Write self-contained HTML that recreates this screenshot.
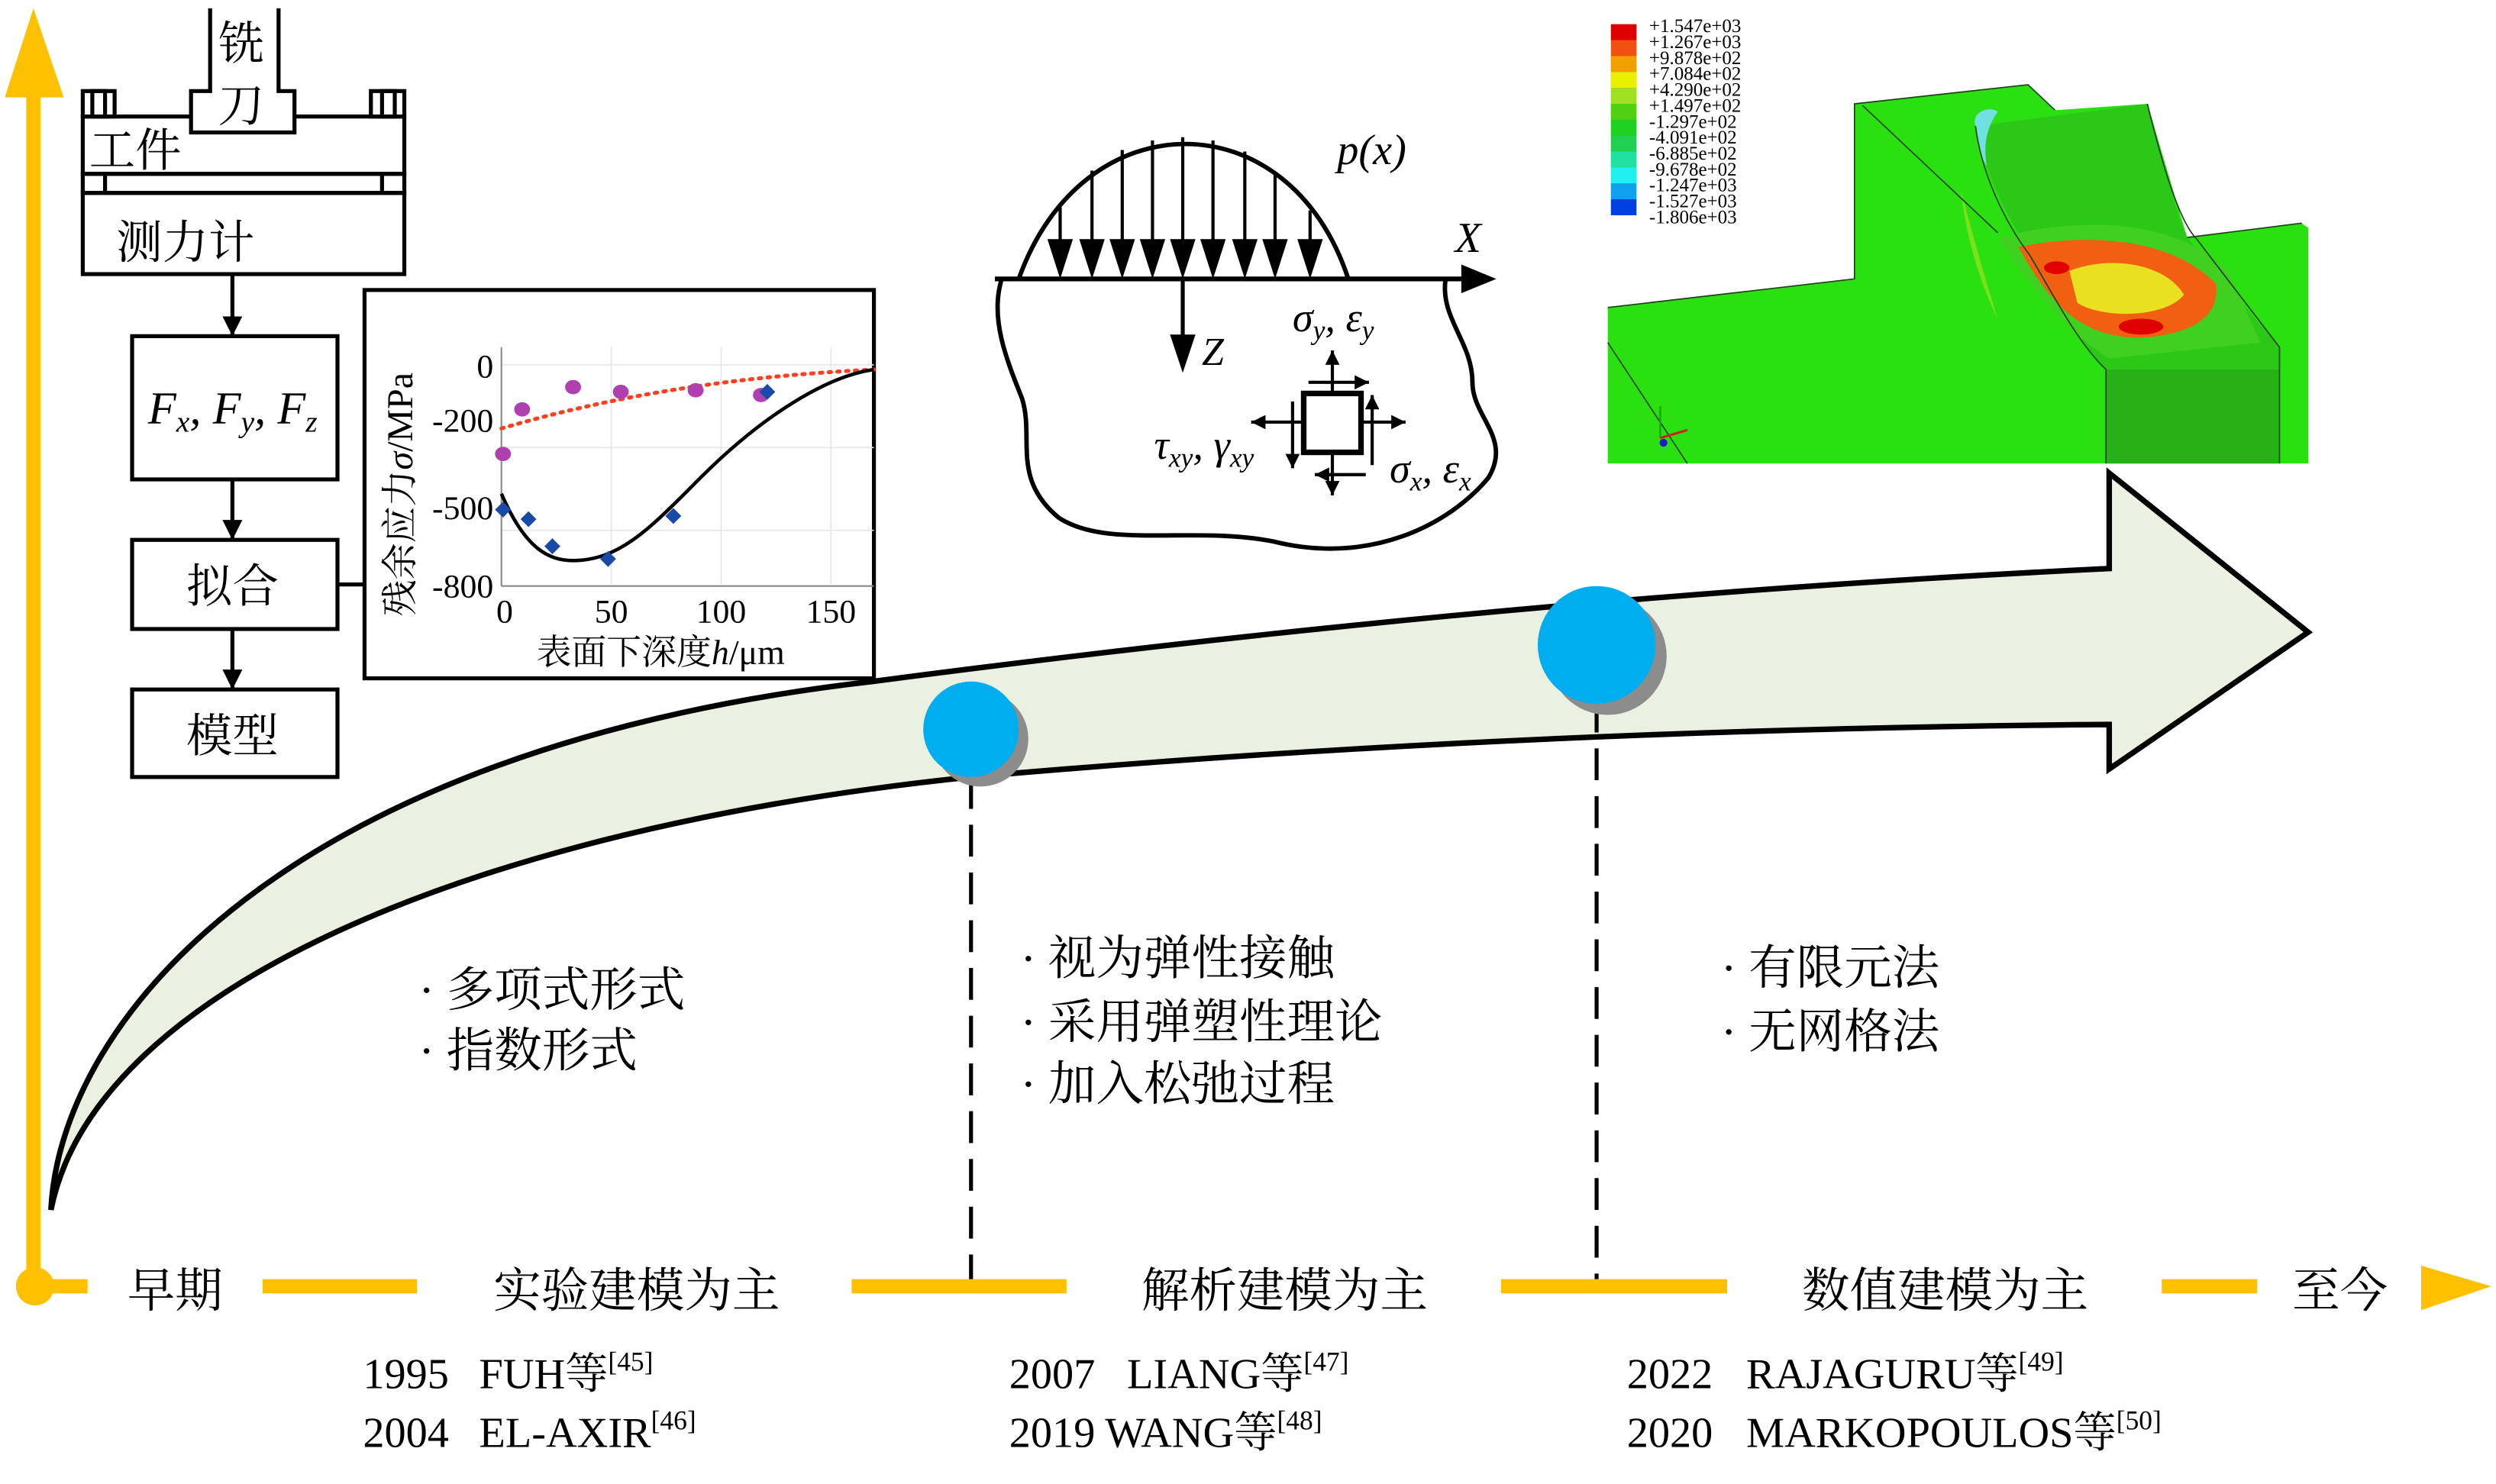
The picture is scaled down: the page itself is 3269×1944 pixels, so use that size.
<!DOCTYPE html>
<html><head><meta charset="utf-8"><style>
html,body{margin:0;padding:0;background:#fff}
svg{display:block}
text{font-family:"Liberation Serif","Noto Serif CJK SC","Noto Sans CJK SC",serif}
.cn{font-family:"Liberation Serif","Noto Serif CJK SC",serif}
.it{font-style:italic}
</style></head><body>
<svg width="3269" height="1944" viewBox="0 0 1568 932" xmlns="http://www.w3.org/2000/svg">
<defs>
<marker id="ah" viewBox="0 0 10 10" refX="10" refY="5" markerWidth="5" markerHeight="5" orient="auto"><path d="M0,0 L10,5 L0,10 Z" fill="#000"/></marker>
<marker id="ah2" viewBox="0 0 10 10" refX="10" refY="5" markerWidth="4.5" markerHeight="4.5" orient="auto"><path d="M0,0 L10,5 L0,10 Z" fill="#000"/></marker>
</defs>

<path d="M32,760 C38,640 180,470 548,428 Q950,375 1325,357 L1325,297 L1450,397 L1325,483 L1325,455 Q950,458 610,488 C300,520 60,620 32,760 Z" fill="#ebf1e0" stroke="#000" stroke-width="3.5" stroke-linejoin="miter"/>

<line x1="610" y1="488" x2="610" y2="808" stroke="#000" stroke-width="2.5" stroke-dasharray="20,10"/>
<line x1="1003" y1="440" x2="1003" y2="808" stroke="#000" stroke-width="2.5" stroke-dasharray="20,10"/>

<circle cx="616" cy="464" r="30" fill="#8c8c8c"/>
<circle cx="610" cy="458" r="30" fill="#00aeef"/>
<circle cx="1010" cy="412" r="37" fill="#8c8c8c"/>
<circle cx="1003" cy="405" r="37" fill="#00aeef"/>

<line x1="21" y1="810" x2="21" y2="55" stroke="#ffc000" stroke-width="9"/>
<polygon points="3,61 21,5 40,61" fill="#ffc000"/>
<circle cx="22" cy="808" r="12" fill="#ffc000"/>
<g stroke="#ffc000" stroke-width="9">
<line x1="22" y1="808" x2="55" y2="808"/>
<line x1="165" y1="808" x2="262" y2="808"/>
<line x1="535" y1="808" x2="670" y2="808"/>
<line x1="943" y1="808" x2="1085" y2="808"/>
<line x1="1358" y1="808" x2="1418" y2="808"/>
</g>
<polygon points="1521,795 1565,808 1521,823" fill="#ffc000"/>
<g font-size="30" class="cn">
<text x="80" y="821">早期</text>
<text x="310" y="821">实验建模为主</text>
<text x="717" y="821">解析建模为主</text>
<text x="1132" y="821">数值建模为主</text>
<text x="1440" y="821">至今</text>
</g>
<g font-size="27">
<text x="228" y="872">1995</text><text x="301" y="872">FUH等<tspan font-size="17" dy="-11">[45]</tspan></text>
<text x="228" y="909">2004</text><text x="301" y="909">EL-AXIR<tspan font-size="17" dy="-11">[46]</tspan></text>
<text x="634" y="872">2007</text><text x="708" y="872">LIANG等<tspan font-size="17" dy="-11">[47]</tspan></text>
<text x="634" y="909">2019 WANG等<tspan font-size="17" dy="-11">[48]</tspan></text>
<text x="1022" y="872">2022</text><text x="1097" y="872">RAJAGURU等<tspan font-size="17" dy="-11">[49]</tspan></text>
<text x="1022" y="909">2020</text><text x="1097" y="909">MARKOPOULOS等<tspan font-size="17" dy="-11">[50]</tspan></text>
</g>
<g font-size="30" class="cn">
<text x="263" y="632">· 多项式形式</text>
<text x="263" y="670">· 指数形式</text>
<text x="641" y="612">· 视为弹性接触</text>
<text x="641" y="652">· 采用弹塑性理论</text>
<text x="641" y="691">· 加入松弛过程</text>
<text x="1081" y="618">· 有限元法</text>
<text x="1081" y="658">· 无网格法</text>
</g>

<g fill="none" stroke="#000" stroke-width="2.5">
<path d="M132,5 V57 H120 V83 H185 V57 H175 V5"/>
<path d="M120,73 H52 V109 H254 V73 H185"/>
<rect x="52" y="57" width="20" height="16"/><rect x="58" y="57" width="8" height="16"/>
<rect x="233" y="57" width="21" height="16"/><rect x="240" y="57" width="8" height="16"/>
<rect x="52" y="109" width="202" height="12"/>
<line x1="66" y1="109" x2="66" y2="121"/><line x1="240" y1="109" x2="240" y2="121"/>
<rect x="52" y="121" width="202" height="51"/>
<rect x="83" y="211" width="129" height="90"/>
<rect x="83" y="339" width="129" height="56"/>
<rect x="83" y="433" width="129" height="55"/>
<line x1="212" y1="367" x2="229" y2="367"/>
</g>
<g stroke="#000" stroke-width="2.5">
<line x1="146" y1="172" x2="146" y2="211" marker-end="url(#ah)"/>
<line x1="146" y1="301" x2="146" y2="339" marker-end="url(#ah)"/>
<line x1="146" y1="395" x2="146" y2="433" marker-end="url(#ah)"/>
</g>
<g font-size="29" class="cn">
<text x="137" y="37">铣</text>
<text x="137" y="76">刀</text>
<text x="56" y="104">工件</text>
<text x="73" y="162">测力计</text>
<text x="117" y="378">拟合</text>
<text x="117" y="472">模型</text>
</g>
<text x="93" y="266" font-size="29" class="it">F<tspan font-size="19" dy="5">x</tspan><tspan dy="-5">, F</tspan><tspan font-size="19" dy="5">y</tspan><tspan dy="-5">, F</tspan><tspan font-size="19" dy="5">z</tspan></text>

<rect x="229" y="182" width="320" height="244" fill="#fff" stroke="#000" stroke-width="2.5"/>
<g stroke="#e6e6e6" stroke-width="0.8">
<line x1="315" y1="229" x2="549" y2="229"/><line x1="315" y1="281" x2="549" y2="281"/><line x1="315" y1="333" x2="549" y2="333"/>
<line x1="384" y1="218" x2="384" y2="367"/><line x1="453" y1="218" x2="453" y2="367"/><line x1="522" y1="218" x2="522" y2="367"/>
</g>
<line x1="315" y1="218" x2="315" y2="368" stroke="#888" stroke-width="1"/>
<line x1="315" y1="368" x2="549" y2="368" stroke="#888" stroke-width="1"/>
<g font-size="21">
<text x="310" y="237" text-anchor="end">0</text>
<text x="310" y="271" text-anchor="end">-200</text>
<text x="310" y="326" text-anchor="end">-500</text>
<text x="310" y="375" text-anchor="end">-800</text>
<text x="317" y="391" text-anchor="middle">0</text>
<text x="384" y="391" text-anchor="middle">50</text>
<text x="453" y="391" text-anchor="middle">100</text>
<text x="522" y="391" text-anchor="middle">150</text>
</g>
<text x="337" y="417" font-size="22" class="cn">表面下深度<tspan class="it">h</tspan>/μm</text>
<text transform="translate(259,387) rotate(-90)" font-size="23" class="cn">残余应力<tspan class="it">σ</tspan>/MPa</text>
<path d="M315,269 Q420,238 549,232" fill="none" stroke="#ff4020" stroke-width="2.5" stroke-dasharray="1.5,4" stroke-linecap="round"/>
<path d="M315,310 C330,345 345,352 360,352 C390,352 410,330 440,300 C480,260 520,236 549,232" fill="none" stroke="#000" stroke-width="2.2"/>
<g fill="#b040b0">
<ellipse cx="316" cy="285" rx="5" ry="4.5"/><ellipse cx="328" cy="257" rx="5" ry="4.5"/><ellipse cx="360" cy="243" rx="5" ry="4.5"/>
<ellipse cx="390" cy="246" rx="5" ry="4.5"/><ellipse cx="437" cy="245" rx="5" ry="4.5"/><ellipse cx="478" cy="248" rx="5" ry="4.5"/>
</g>
<g fill="#1a4aa8">
<path d="M316,315 l5,5 -5,5 -5,-5z"/><path d="M332,321 l5,5 -5,5 -5,-5z"/><path d="M347,338 l5,5 -5,5 -5,-5z"/>
<path d="M382,346 l5,5 -5,5 -5,-5z"/><path d="M423,319 l5,5 -5,5 -5,-5z"/><path d="M482,241 l5,5 -5,5 -5,-5z"/>
</g>

<path d="M629,176 C622,200 632,225 642,250 C650,275 635,300 665,325 C695,345 750,330 800,340 C860,355 910,330 935,300 C950,275 925,262 925,240 C925,215 905,200 908,176" fill="none" stroke="#000" stroke-width="2.8"/>
<path d="M640,175 C680,62 810,62 847,175" fill="none" stroke="#000" stroke-width="2.8"/>
<g stroke="#000" stroke-width="2">
<line x1="666" y1="130" x2="666" y2="155"/>
<line x1="686" y1="107" x2="686" y2="155"/>
<line x1="705" y1="94" x2="705" y2="155"/>
<line x1="724" y1="88" x2="724" y2="155"/>
<line x1="743" y1="86" x2="743" y2="155"/>
<line x1="762" y1="88" x2="762" y2="155"/>
<line x1="782" y1="95" x2="782" y2="155"/>
<line x1="801" y1="108" x2="801" y2="155"/>
<line x1="823" y1="132" x2="823" y2="155"/>
</g>
<g fill="#000">
<polygon points="658,150 674,150 666,175"/><polygon points="678,150 694,150 686,175"/><polygon points="697,150 713,150 705,175"/>
<polygon points="716,150 732,150 724,175"/><polygon points="735,150 751,150 743,175"/><polygon points="754,150 770,150 762,175"/>
<polygon points="774,150 790,150 782,175"/><polygon points="793,150 809,150 801,175"/><polygon points="815,150 831,150 823,175"/>
</g>
<line x1="625" y1="175" x2="925" y2="175" stroke="#000" stroke-width="3"/>
<polygon points="918,166 940,175 918,184" fill="#000"/>
<line x1="743" y1="175" x2="743" y2="212" stroke="#000" stroke-width="2.5"/>
<polygon points="735,210 751,210 743,234" fill="#000"/>
<text x="840" y="103" font-size="27" class="it">p(x)</text>
<text x="914" y="158" font-size="27" class="it">X</text>
<text x="755" y="229" font-size="25" class="it">Z</text>
<rect x="819" y="247" width="36" height="37" fill="#fff" stroke="#000" stroke-width="3.5"/>
<g stroke="#000" stroke-width="2">
<line x1="837" y1="247" x2="837" y2="220" marker-end="url(#ah2)"/>
<line x1="837" y1="284" x2="837" y2="311" marker-end="url(#ah2)"/>
<line x1="855" y1="265" x2="883" y2="265" marker-end="url(#ah2)"/>
<line x1="819" y1="265" x2="786" y2="265" marker-end="url(#ah2)"/>
<line x1="822" y1="240" x2="860" y2="240" marker-end="url(#ah2)"/>
<line x1="858" y1="298" x2="826" y2="298" marker-end="url(#ah2)"/>
<line x1="862" y1="292" x2="862" y2="248" marker-end="url(#ah2)"/>
<line x1="812" y1="252" x2="812" y2="294" marker-end="url(#ah2)"/>
</g>
<text x="812" y="208" font-size="26" class="it">σ<tspan font-size="17" dy="5">y</tspan><tspan dy="-5">, ε</tspan><tspan font-size="17" dy="5">y</tspan></text>
<text x="725" y="288" font-size="26" class="it">τ<tspan font-size="17" dy="5">xy</tspan><tspan dy="-5">, γ</tspan><tspan font-size="17" dy="5">xy</tspan></text>
<text x="873" y="303" font-size="26" class="it">σ<tspan font-size="17" dy="5">x</tspan><tspan dy="-5">, ε</tspan><tspan font-size="17" dy="5">x</tspan></text>

<polygon points="1010,193 1165,175 1165,65 1274,53 1291,69 1349,65 1374,149 1446,140 1450,143 1450,291 1010,291" fill="#2be010"/>
<path d="M1241,79 L1349,65 C1360,100 1365,130 1374,149 L1432,218 L1432,291 L1323,291 L1323,232 C1300,210 1290,180 1270,150 C1255,125 1245,100 1241,79 Z" fill="#2cc818"/>
<rect x="1323" y="232" width="109" height="59" fill="#26b016"/>
<path d="M1255,150 C1285,140 1360,130 1400,170 L1420,215 L1325,225 C1300,210 1280,185 1255,150 Z" fill="#40d020"/>
<path d="M1268,155 C1300,148 1360,145 1392,178 C1395,200 1375,210 1345,212 C1310,212 1290,195 1268,155 Z" fill="#f06010"/>
<path d="M1300,170 C1325,160 1360,165 1372,185 C1360,200 1320,200 1305,190 Z" fill="#e8e020"/>
<ellipse cx="1345" cy="205" rx="14" ry="5" fill="#e00000"/>
<ellipse cx="1292" cy="168" rx="8" ry="4" fill="#e00000"/>
<path d="M1241,79 C1238,70 1250,66 1255,70 C1248,80 1246,90 1248,104 C1244,98 1242,90 1241,79 Z" fill="#70e0e0"/>
<path d="M1232,120 C1240,150 1250,185 1255,200 C1245,180 1235,150 1232,120 Z" fill="#a0e020" opacity="0.7"/>
<g fill="none" stroke="#1a4010" stroke-width="0.8">
<path d="M1010,193 L1165,175 V65 L1274,53 L1291,69"/>
<path d="M1170,66 L1255,146 M1241,79 C1245,110 1260,140 1275,160 C1290,185 1305,215 1323,232 V291 M1349,65 C1360,110 1370,140 1380,150 L1432,218 V291 M1374,149 L1446,140"/>
<path d="M1010,215 L1060,291"/>
</g>
<g font-family="'Liberation Sans',sans-serif" font-size="12">
<rect x="1012" y="15" width="16" height="120" fill="#888"/>
<rect x="1012" y="15" width="16" height="10" fill="#e00000"/>
<rect x="1012" y="25" width="16" height="10" fill="#f05010"/>
<rect x="1012" y="35" width="16" height="10" fill="#f0a000"/>
<rect x="1012" y="45" width="16" height="10" fill="#e8f000"/>
<rect x="1012" y="55" width="16" height="10" fill="#a0e020"/>
<rect x="1012" y="65" width="16" height="10" fill="#50d010"/>
<rect x="1012" y="75" width="16" height="10" fill="#20d020"/>
<rect x="1012" y="85" width="16" height="10" fill="#20d050"/>
<rect x="1012" y="95" width="16" height="10" fill="#20e0a0"/>
<rect x="1012" y="105" width="16" height="10" fill="#20f0f0"/>
<rect x="1012" y="115" width="16" height="10" fill="#10a0f0"/>
<rect x="1012" y="125" width="16" height="10" fill="#0040e0"/>
<text x="1036" y="20">+1.547e+03</text><text x="1036" y="30">+1.267e+03</text><text x="1036" y="40">+9.878e+02</text>
<text x="1036" y="50">+7.084e+02</text><text x="1036" y="60">+4.290e+02</text><text x="1036" y="70">+1.497e+02</text>
<text x="1036" y="80">-1.297e+02</text><text x="1036" y="90">-4.091e+02</text><text x="1036" y="100">-6.885e+02</text>
<text x="1036" y="110">-9.678e+02</text><text x="1036" y="120">-1.247e+03</text><text x="1036" y="130">-1.527e+03</text>
<text x="1036" y="140">-1.806e+03</text>
</g>
<line x1="1043" y1="275" x2="1043" y2="255" stroke="#20a020" stroke-width="1.2"/>
<line x1="1043" y1="275" x2="1060" y2="270" stroke="#d02020" stroke-width="1.5"/>
<circle cx="1045" cy="278" r="2.5" fill="#2020c0"/>
</svg>
</body></html>
